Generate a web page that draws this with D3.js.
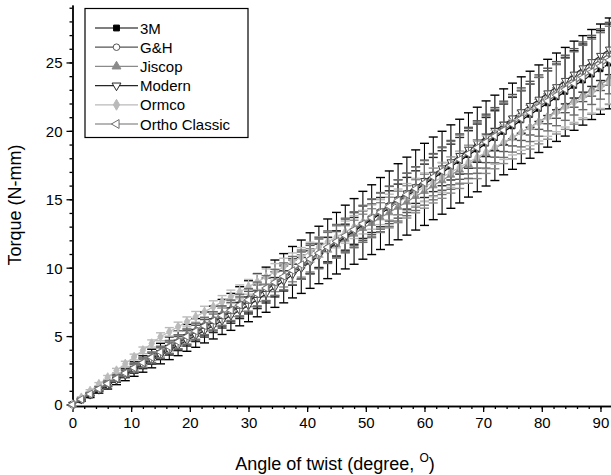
<!DOCTYPE html>
<html>
<head>
    <title>Torque vs angle of twist</title>
    <script src="https://cdnjs.cloudflare.com/ajax/libs/d3/7.8.5/d3.min.js"></script>
    <style>
        body { margin: 0; background: white; }
        svg { display: block; }
        svg text { font-family: Arial, "Liberation Sans", Helvetica, sans-serif; }
    </style>
</head>
<body>
    <div id="chart"></div>
    <script>
        // angle of twist (degree)
        const angle = [0, 1.5, 3, 4.5, 6, 7.5, 9, 10.5, 12, 13.5, 15, 16.5, 18, 19.5, 21, 22.5, 24, 25.5, 27, 28.5,
            30, 31.5, 33, 34.5, 36, 37.5, 39, 40.5, 42, 43.5, 45, 46.5, 48, 49.5, 51, 52.5, 54, 55.5, 57, 58.5,
            60, 61.5, 63, 64.5, 66, 67.5, 69, 70.5, 72, 73.5, 75, 76.5, 78, 79.5, 81, 82.5, 84, 85.5, 87, 88.5, 90, 91.5];

        // mean torque (N-mm) per bracket
        const torque3M = [0, 0.31, 0.66, 1.06, 1.43, 1.83, 2.19, 2.59, 2.96, 3.36, 3.72, 4.11, 4.47, 4.87, 5.23, 5.63, 5.99, 6.40, 6.77, 7.18,
            7.55, 7.99, 8.39, 8.83, 9.23, 9.67, 10.07, 10.52, 10.93, 11.38, 11.79, 12.24, 12.65, 13.10, 13.51, 13.96, 14.37, 14.82, 15.23, 15.68,
            16.09, 16.53, 16.94, 17.39, 17.79, 18.24, 18.64, 19.08, 19.49, 19.93, 20.34, 20.78, 21.18, 21.62, 22.02, 22.46, 22.86, 23.30, 23.69, 24.12, 24.51, 24.93];
        const torqueGH = [0, 0.38, 0.75, 1.13, 1.50, 1.88, 2.25, 2.63, 3.00, 3.38, 3.75, 4.13, 4.50, 4.88, 5.25, 5.63, 6.00, 6.38, 6.75, 7.13,
            7.50, 7.94, 8.39, 8.83, 9.27, 9.71, 10.16, 10.60, 11.04, 11.48, 11.93, 12.37, 12.81, 13.25, 13.70, 14.14, 14.58, 15.02, 15.47, 15.91,
            16.35, 16.79, 17.24, 17.68, 18.12, 18.56, 19.01, 19.45, 19.89, 20.33, 20.78, 21.22, 21.66, 22.10, 22.55, 22.99, 23.43, 23.87, 24.32, 24.76, 25.20, 25.64];
        const torqueJiscop = [0, 0.40, 0.77, 1.18, 1.55, 1.96, 2.33, 2.74, 3.11, 3.52, 3.89, 4.30, 4.67, 5.08, 5.45, 5.86, 6.23, 6.64, 7.01, 7.42,
            7.79, 8.20, 8.57, 8.98, 9.35, 9.76, 10.13, 10.54, 10.91, 11.32, 11.69, 12.10, 12.47, 12.88, 13.25, 13.66, 14.03, 14.44, 14.81, 15.22,
            15.59, 16.00, 16.37, 16.78, 17.15, 17.56, 17.93, 18.34, 18.71, 19.12, 19.49, 19.90, 20.27, 20.68, 21.05, 21.46, 21.83, 22.24, 22.61, 23.02, 23.39, 23.80];
        const torqueModern = [0, 0.36, 0.72, 1.08, 1.44, 1.80, 2.16, 2.52, 2.88, 3.24, 3.60, 3.96, 4.32, 4.68, 5.04, 5.40, 5.76, 6.12, 6.50, 6.87,
            7.24, 7.66, 8.10, 8.57, 9.03, 9.49, 9.95, 10.40, 10.86, 11.32, 11.78, 12.23, 12.69, 13.15, 13.61, 14.06, 14.52, 14.98, 15.44, 15.89,
            16.35, 16.81, 17.27, 17.72, 18.18, 18.64, 19.10, 19.55, 20.01, 20.47, 20.93, 21.38, 21.84, 22.30, 22.76, 23.21, 23.67, 24.13, 24.59, 25.04, 25.50, 25.96];
        const torqueOrmco = [0, 0.50, 0.99, 1.49, 1.98, 2.48, 2.97, 3.47, 3.96, 4.46, 4.95, 5.31, 5.68, 6.04, 6.41, 6.77, 7.14, 7.50, 7.87, 8.23,
            8.60, 8.96, 9.32, 9.69, 10.05, 10.42, 10.78, 11.15, 11.51, 11.88, 12.24, 12.60, 12.97, 13.33, 13.70, 14.06, 14.43, 14.79, 15.16, 15.52,
            15.89, 16.25, 16.61, 16.98, 17.34, 17.71, 18.07, 18.44, 18.80, 19.17, 19.53, 19.89, 20.26, 20.62, 20.99, 21.35, 21.72, 22.08, 22.45, 22.81, 23.18, 23.54];
        const torqueOrtho = [0, 0.38, 0.77, 1.15, 1.53, 1.91, 2.30, 2.68, 3.06, 3.44, 3.83, 4.21, 4.59, 4.97, 5.36, 5.74, 6.12, 6.50, 6.89, 7.27,
            7.65, 8.08, 8.51, 8.93, 9.36, 9.79, 10.22, 10.64, 11.07, 11.50, 11.93, 12.35, 12.78, 13.21, 13.64, 14.06, 14.49, 14.92, 15.35, 15.77,
            16.20, 16.63, 17.06, 17.48, 17.91, 18.34, 18.77, 19.19, 19.62, 20.05, 20.48, 20.90, 21.33, 21.76, 22.19, 22.61, 23.04, 23.47, 23.90, 24.32, 24.75, 25.18];

        // standard deviations (N-mm)
        const sd3M = [0, 0.08, 0.15, 0.23, 0.30, 0.38, 0.45, 0.53, 0.60, 0.68, 0.75, 0.83, 0.90, 0.98, 1.05, 1.13, 1.20, 1.28, 1.35, 1.43,
            1.50, 1.58, 1.65, 1.73, 1.80, 1.88, 1.95, 2.03, 2.10, 2.18, 2.25, 2.33, 2.40, 2.48, 2.55, 2.63, 2.70, 2.78, 2.85, 2.93,
            3.00, 3.02, 3.03, 3.05, 3.06, 3.08, 3.09, 3.11, 3.12, 3.14, 3.15, 3.17, 3.18, 3.20, 3.21, 3.23, 3.24, 3.26, 3.27, 3.29, 3.30, 3.32];
        const sdGH = [0, 0.06, 0.10, 0.14, 0.17, 0.21, 0.25, 0.28, 0.32, 0.36, 0.40, 0.43, 0.47, 0.51, 0.54, 0.58, 0.62, 0.66, 0.69, 0.73,
            0.77, 0.80, 0.84, 0.88, 0.92, 0.95, 0.99, 1.03, 1.06, 1.10, 1.14, 1.18, 1.21, 1.25, 1.29, 1.32, 1.36, 1.40, 1.44, 1.47,
            1.51, 1.55, 1.58, 1.62, 1.66, 1.70, 1.73, 1.77, 1.81, 1.84, 1.88, 1.92, 1.96, 1.99, 2.03, 2.07, 2.10, 2.14, 2.18, 2.22, 2.25, 2.29];
        const sdJiscop = [0, 0.07, 0.10, 0.13, 0.16, 0.19, 0.22, 0.25, 0.28, 0.31, 0.34, 0.37, 0.40, 0.43, 0.46, 0.49, 0.52, 0.55, 0.58, 0.61,
            0.64, 0.67, 0.70, 0.73, 0.76, 0.79, 0.82, 0.85, 0.88, 0.91, 0.94, 0.97, 1.00, 1.03, 1.06, 1.09, 1.12, 1.15, 1.18, 1.21,
            1.24, 1.27, 1.30, 1.33, 1.36, 1.39, 1.42, 1.45, 1.48, 1.51, 1.54, 1.57, 1.60, 1.63, 1.66, 1.69, 1.72, 1.75, 1.78, 1.81, 1.84, 1.87];
        const sdModern = [0, 0.05, 0.08, 0.11, 0.14, 0.17, 0.20, 0.23, 0.26, 0.29, 0.32, 0.35, 0.38, 0.41, 0.44, 0.47, 0.50, 0.53, 0.56, 0.59,
            0.62, 0.65, 0.68, 0.71, 0.74, 0.77, 0.80, 0.83, 0.86, 0.89, 0.92, 0.95, 0.98, 1.01, 1.04, 1.07, 1.10, 1.13, 1.16, 1.19,
            1.22, 1.25, 1.28, 1.31, 1.34, 1.37, 1.40, 1.43, 1.46, 1.49, 1.52, 1.55, 1.58, 1.61, 1.64, 1.67, 1.70, 1.73, 1.76, 1.79, 1.82, 1.85];
        const sdOrmco = [0, 0.06, 0.09, 0.11, 0.14, 0.16, 0.19, 0.21, 0.24, 0.26, 0.29, 0.31, 0.34, 0.36, 0.39, 0.41, 0.44, 0.46, 0.49, 0.51,
            0.54, 0.56, 0.59, 0.61, 0.64, 0.66, 0.69, 0.71, 0.74, 0.76, 0.79, 0.81, 0.84, 0.86, 0.89, 0.91, 0.94, 0.96, 0.99, 1.01,
            1.04, 1.06, 1.09, 1.11, 1.14, 1.16, 1.19, 1.21, 1.24, 1.26, 1.29, 1.31, 1.34, 1.36, 1.39, 1.41, 1.44, 1.46, 1.49, 1.51, 1.54, 1.56];
        const sdOrtho = [0, 0.07, 0.11, 0.15, 0.19, 0.23, 0.27, 0.31, 0.35, 0.39, 0.43, 0.47, 0.51, 0.55, 0.59, 0.63, 0.67, 0.71, 0.75, 0.79,
            0.83, 0.87, 0.91, 0.95, 0.99, 1.03, 1.07, 1.11, 1.15, 1.19, 1.23, 1.27, 1.31, 1.35, 1.39, 1.43, 1.47, 1.51, 1.55, 1.59,
            1.63, 1.67, 1.71, 1.75, 1.79, 1.83, 1.87, 1.91, 1.95, 1.99, 2.03, 2.07, 2.11, 2.15, 2.19, 2.23, 2.27, 2.31, 2.35, 2.39, 2.43, 2.47];

        const seriesNames = ['3M', 'G&H', 'Jiscop', 'Modern', 'Ormco', 'Ortho Classic'];
        const xTicks = [0, 10, 20, 30, 40, 50, 60, 70, 80, 90];
        const yTicks = [0, 5, 10, 15, 20, 25];

        const series = [
            {name: seriesNames[0], y: torque3M, sd: sd3M, color: '#000000', symbol: d3.symbolSquare, rot: 0, fill: true},
            {name: seriesNames[1], y: torqueGH, sd: sdGH, color: '#555555', symbol: d3.symbolCircle, rot: 0, fill: false},
            {name: seriesNames[2], y: torqueJiscop, sd: sdJiscop, color: '#8a8a8a', symbol: d3.symbolTriangle, rot: 0, fill: true},
            {name: seriesNames[3], y: torqueModern, sd: sdModern, color: '#262626', symbol: d3.symbolTriangle, rot: 180, fill: false},
            {name: seriesNames[4], y: torqueOrmco, sd: sdOrmco, color: '#bababa', symbol: d3.symbolDiamond, rot: 0, fill: true},
            {name: seriesNames[5], y: torqueOrtho, sd: sdOrtho, color: '#6e6e6e', symbol: d3.symbolTriangle, rot: -90, fill: false}
        ];

        const W = 611, H = 475;
        const svg = d3.select('#chart').append('svg')
            .attr('width', W)
            .attr('height', H);

        const x = d3.scaleLinear().domain([0, 92]).range([72.5, 612.2]);
        const y = d3.scaleLinear().domain([0, 29.2]).range([404.5, 5]);

        // axes (ticks outward, minor + major)
        const axisY = 406;
        svg.append('g')
            .attr('transform', `translate(0,${axisY})`)
            .call(d3.axisBottom(x).tickValues(d3.range(0, 93, 2)).tickSize(3).tickFormat('').tickSizeOuter(0));
        svg.append('g')
            .attr('class', 'xmajor')
            .attr('transform', `translate(0,${axisY})`)
            .call(d3.axisBottom(x).tickValues(xTicks).tickSize(6).tickSizeOuter(0).tickPadding(5));

        svg.append('g')
            .attr('transform', 'translate(72.5,0)')
            .call(d3.axisLeft(y).tickValues(d3.range(0, 30, 1)).tickSize(3).tickFormat('').tickSizeOuter(0));
        svg.append('g')
            .attr('class', 'ymajor')
            .attr('transform', 'translate(72.5,0)')
            .call(d3.axisLeft(y).tickValues(yTicks).tickSize(6).tickSizeOuter(0).tickPadding(4));

        svg.selectAll('g').attr('font-family', null);
        svg.selectAll('.domain').attr('stroke', '#000').attr('stroke-width', 1.4);
        svg.selectAll('.tick line').attr('stroke', '#000').attr('stroke-width', 1.3);
        svg.selectAll('.tick text')
            .attr('font-size', 15)
            .attr('fill', '#000');
        svg.select('.ymajor').selectAll('.tick text').attr('dy', '0.36em');

        // axis titles
        const xt = svg.append('text')
            .attr('x', 335)
            .attr('y', 470)
            .attr('text-anchor', 'middle')
            .attr('font-size', 18)
            .attr('fill', '#000');
        xt.append('tspan').text('Angle of twist (degree, ');
        xt.append('tspan').attr('font-size', 12).attr('dy', -8).text('O');
        xt.append('tspan').attr('dy', 8).text(')');

        svg.append('text')
            .attr('transform', 'translate(21,205) rotate(-90)')
            .attr('text-anchor', 'middle')
            .attr('font-size', 18)
            .attr('fill', '#000')
            .text('Torque (N-mm)');

        // data
        const plot = svg.append('g');
        const capW = 4.5;

        function symbolPath(s, size) {
            return d3.symbol().type(s.symbol).size(size)();
        }

        series.forEach(s => {
            const n = Math.min(angle.length, s.y.length, s.sd.length);
            const pts = d3.range(n).map(i => ({a: angle[i], v: s.y[i], e: s.sd[i]}));
            const g = plot.append('g');

            // error bars
            pts.forEach(p => {
                if (p.e <= 0) return;
                const px = x(p.a), top = y(p.v + p.e), bot = y(p.v - p.e);
                g.append('line').attr('x1', px).attr('x2', px).attr('y1', top).attr('y2', bot)
                    .attr('stroke', s.color).attr('stroke-width', 1.1);
                [top, bot].forEach(yy => {
                    g.append('line').attr('x1', px - capW).attr('x2', px + capW).attr('y1', yy).attr('y2', yy)
                        .attr('stroke', s.color).attr('stroke-width', 1.4);
                });
            });

            g.append('path')
                .datum(pts)
                .attr('fill', 'none')
                .attr('stroke', s.color)
                .attr('stroke-width', 1.2)
                .attr('d', d3.line().x(p => x(p.a)).y(p => y(p.v)));

            g.selectAll('path.m')
                .data(pts)
                .join('path')
                .attr('class', 'm')
                .attr('d', symbolPath(s, 26))
                .attr('transform', p => `translate(${x(p.a)},${y(p.v)}) rotate(${s.rot})`)
                .attr('fill', s.fill ? s.color : '#fff')
                .attr('stroke', s.color)
                .attr('stroke-width', 0.9);
        });

        // legend
        const legend = svg.append('g');
        legend.append('rect')
            .attr('x', 85).attr('y', 8.5)
            .attr('width', 163).attr('height', 129)
            .attr('fill', '#fff')
            .attr('stroke', '#000')
            .attr('stroke-width', 1.2);

        series.forEach((s, i) => {
            const ly = 28 + i * 19.2;
            legend.append('line')
                .attr('x1', 95).attr('x2', 138).attr('y1', ly).attr('y2', ly)
                .attr('stroke', s.color).attr('stroke-width', 1.2);
            legend.append('path')
                .attr('d', symbolPath(s, 34))
                .attr('transform', `translate(116.5,${ly}) rotate(${s.rot})`)
                .attr('fill', s.fill ? s.color : '#fff')
                .attr('stroke', s.color)
                .attr('stroke-width', 1);
            legend.append('text')
                .attr('x', 140)
                .attr('y', ly + 5.5)
                .attr('font-size', 15)
                .attr('fill', '#000')
                .text(s.name);
        });
    </script>
</body>
</html>
